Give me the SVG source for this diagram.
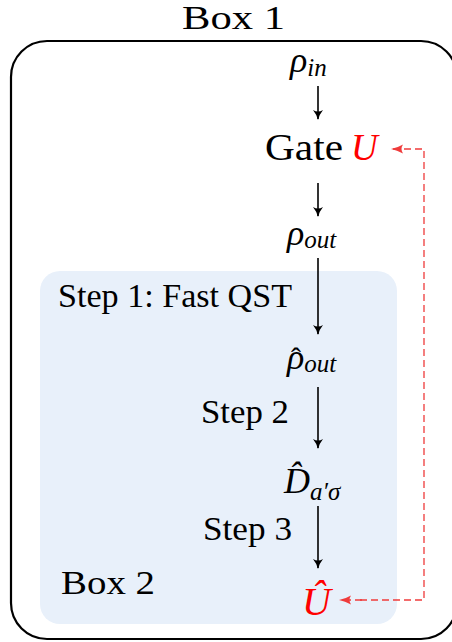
<svg xmlns="http://www.w3.org/2000/svg" width="452" height="642" viewBox="0 0 452 642">
  <style>
    .serif { font-family: "Liberation Serif", "Times New Roman", serif; fill: #000; }
    .it { font-style: italic; }
    .red { fill: #ff0000; }
    .flow { stroke: #000; stroke-width: 1.6; fill: none; marker-end: url(#arrowBlack); }
    .fb { stroke: #ef3b3b; stroke-width: 1.3; fill: none; stroke-dasharray: 7 4; }
  </style>
  <defs>
    <marker id="arrowBlack" viewBox="0 0 10 12" refX="9" refY="6" markerWidth="10" markerHeight="12" markerUnits="userSpaceOnUse" orient="auto">
      <path d="M0,1 Q5,5 10,6 Q5,7 0,11 Q3,6 0,1 Z" fill="#000"/>
    </marker>
    <marker id="arrowRed" viewBox="0 0 12 10" refX="11" refY="5" markerWidth="12" markerHeight="10" markerUnits="userSpaceOnUse" orient="auto">
      <path d="M0,0.5 Q6,4 12,5 Q6,6 0,9.5 Q3,5 0,0.5 Z" fill="#ef3b3b"/>
    </marker>
  </defs>

  <rect width="452" height="642" fill="#fff"/>

  <!-- outer container -->
  <g id="box1">
    <rect x="11" y="41" width="446" height="598" rx="36" ry="36" fill="none" stroke="#000" stroke-width="2.2"/>
    <text class="serif" x="182" y="29" font-size="34" textLength="103" lengthAdjust="spacingAndGlyphs">Box 1</text>
  </g>

  <!-- inner shaded region -->
  <g id="box2">
    <rect x="40" y="271" width="357" height="353" rx="20" ry="20" fill="#e8f0fa"/>
    <text class="serif" x="61" y="594" font-size="34" textLength="94" lengthAdjust="spacingAndGlyphs">Box 2</text>
  </g>

  <g id="rho-in">
    <text class="serif it" x="290" y="72" font-size="36">ρ<tspan font-size="25" dy="4">in</tspan></text>
  </g>

  <g id="gate">
    <text class="serif" x="265" y="160" font-size="37" textLength="78" lengthAdjust="spacingAndGlyphs">Gate</text>
    <text class="serif it red" x="351" y="160" font-size="37">U</text>
  </g>

  <g id="rho-out">
    <text class="serif it" x="287" y="245" font-size="36">ρ<tspan font-size="25" dy="3">out</tspan></text>
  </g>

  <g id="rho-hat">
    <text class="serif it" x="287" y="369" font-size="36">ρ<tspan font-size="25" dy="3">out</tspan></text>
    <text class="serif" x="291" y="368" font-size="30">ˆ</text>
  </g>

  <g id="d-hat">
    <text class="serif it" x="284" y="493" font-size="36">D̂<tspan font-size="25" dy="7">a′σ</tspan></text>
  </g>

  <g id="u-hat">
    <text class="serif it red" x="302" y="615" font-size="40">Û</text>
  </g>

  <g id="labels">
    <text class="serif" x="58" y="307" font-size="33" textLength="234" lengthAdjust="spacingAndGlyphs">Step 1: Fast QST</text>
    <text class="serif" x="201" y="423" font-size="33" textLength="88" lengthAdjust="spacingAndGlyphs">Step 2</text>
    <text class="serif" x="203" y="540" font-size="33" textLength="89" lengthAdjust="spacingAndGlyphs">Step 3</text>
  </g>

  <g id="connectors">
    <line class="flow" x1="318" y1="86" x2="318" y2="119"/>
    <line class="flow" x1="318" y1="183" x2="318" y2="216"/>
    <line class="flow" x1="318" y1="258" x2="318" y2="334"/>
    <line class="flow" x1="318" y1="387" x2="318" y2="448"/>
    <line class="flow" x1="318" y1="506" x2="318" y2="568"/>
    <path class="fb" d="M360,600 L424,600 L424,149 L392,149" marker-end="url(#arrowRed)"/>
    <line class="fb" x1="362" y1="600" x2="340" y2="600" marker-end="url(#arrowRed)"/>
  </g>
</svg>
